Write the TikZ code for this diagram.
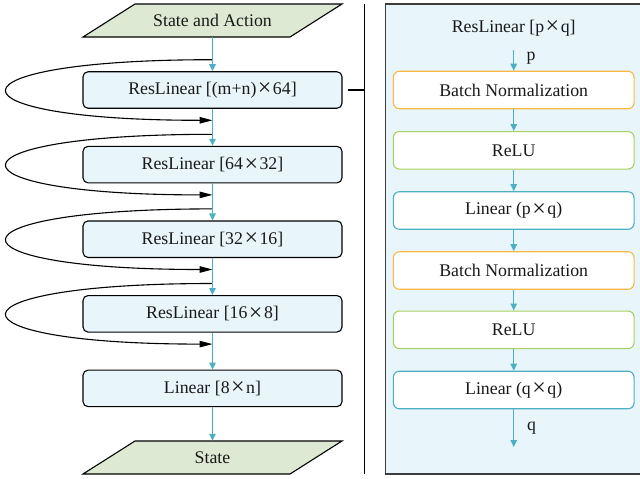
\documentclass[tikz,border=0pt]{standalone}
\usepackage{fontspec}
\usepackage{graphicx}
\setmainfont{Liberation Serif}
\usetikzlibrary{arrows.meta,calc}
\definecolor{tealc}{RGB}{75,176,193}
\definecolor{lblue}{RGB}{232,245,250}
\definecolor{lgreen}{RGB}{222,233,211}
\definecolor{orangec}{RGB}{247,185,66}
\definecolor{greenc}{RGB}{168,210,96}
\definecolor{dgray}{RGB}{60,60,60}
\definecolor{txt}{RGB}{25,25,25}
\newcommand{\tms}{\hspace{1.5pt}\raisebox{-0.08em}{\scalebox{1.35}{×}}\hspace{1.5pt}}
\begin{document}
\begin{tikzpicture}[x=1pt,y=-1pt,
  font=\fontsize{17.8}{21}\selectfont, text=txt,
  box/.style={draw=black, fill=lblue, rounded corners=5pt, minimum width=259pt, minimum height=36.5pt, line width=1.1pt, inner sep=0pt},
  inbox/.style={fill=white, rounded corners=6pt, minimum width=240.7pt, minimum height=37.5pt, line width=1.1pt, inner sep=0pt},
  io/.style={draw=black, fill=lgreen, line width=1.1pt},
  iotext/.style={minimum height=33pt, inner sep=0pt},
  flow/.style={draw=tealc, line width=1.3pt, -{Triangle[length=7pt,width=6.5pt]}},
  skip/.style={draw=black, line width=1.1pt, -{Triangle[length=13pt,width=6.5pt]}},
  plain/.style={draw=black, line width=1.1pt}]
\useasboundingbox (0,0) rectangle (640,479);
\clip (0,0) rectangle (640,479);

% input / output parallelograms
\draw[io] (83,37) -- (135,4) -- (342,4) -- (290,37) -- cycle;
\node[iotext] (sa) at (212.5,20.5) {State and Action};
\draw[io] (83,474) -- (135,441) -- (342,441) -- (290,474) -- cycle;
\node[iotext] (st) at (212.5,457.5) {State};

% left boxes
\node[box] (r1) at (212.5,90) {ResLinear [(m+n)\tms64]};
\node[box] (r2) at (212.5,164.6) {ResLinear [64\tms32]};
\node[box] (r3) at (212.5,239.2) {ResLinear [32\tms16]};
\node[box] (r4) at (212.5,313.8) {ResLinear [16\tms8]};
\node[box] (r5) at (212.5,388.4) {Linear [8\tms n]};

% skip connections
\foreach \i in {1,2,3,4}{
  \coordinate (s\i) at ($(r\i.north)+(0,-11.5)$);
  \coordinate (e\i) at ($(r\i.south)+(0,11.5)$);
  \draw[skip] (s\i) .. controls +(-274,0) and +(-274,0) .. (e\i);
}

% main flow
\draw[flow] (sa.south) -- (r1.north);
\draw[flow] (r1.south) -- (r2.north);
\draw[flow] (r2.south) -- (r3.north);
\draw[flow] (r3.south) -- (r4.north);
\draw[flow] (r4.south) -- (r5.north);
\draw[flow] (r5.south) -- (st.north);

% separator
\coordinate (septop) at (364.5,4);
\coordinate (sepbot) at (364.5,474);
\draw[plain] (septop) -- (sepbot);
\draw[plain] ([xshift=5pt]r1.east) -- (r1.east -| septop);

% right panel
\draw[fill=lblue, draw=dgray, line width=1.3pt] (385.7,4) rectangle (660,474);
\node (ttl) at (513.7,28) {ResLinear [p\tms q]};
\node[inbox, draw=orangec] (bn1) at (513.7,90) {Batch Normalization};
\node[inbox, draw=greenc] (re1) at (513.7,150.3) {ReLU};
\node[inbox, draw=tealc] (li1) at (513.7,210.5) {Linear (p\tms q)};
\node[inbox, draw=orangec] (bn2) at (513.7,270.5) {Batch Normalization};
\node[inbox, draw=greenc] (re2) at (513.7,329.8) {ReLU};
\node[inbox, draw=tealc] (li2) at (513.7,390) {Linear (q\tms q)};
\coordinate (pin) at (513.7,50);
\coordinate (pout) at (513.7,447);
\node (pl) at (531,58) {p};
\node (ql) at (531.5,428) {q};
\draw[flow] (pin) -- (bn1.north);
\draw[flow] (bn1.south) -- (re1.north);
\draw[flow] (re1.south) -- (li1.north);
\draw[flow] (li1.south) -- (bn2.north);
\draw[flow] (bn2.south) -- (re2.north);
\draw[flow] (re2.south) -- (li2.north);
\draw[flow] (li2.south) -- (pout);
\end{tikzpicture}
\end{document}
